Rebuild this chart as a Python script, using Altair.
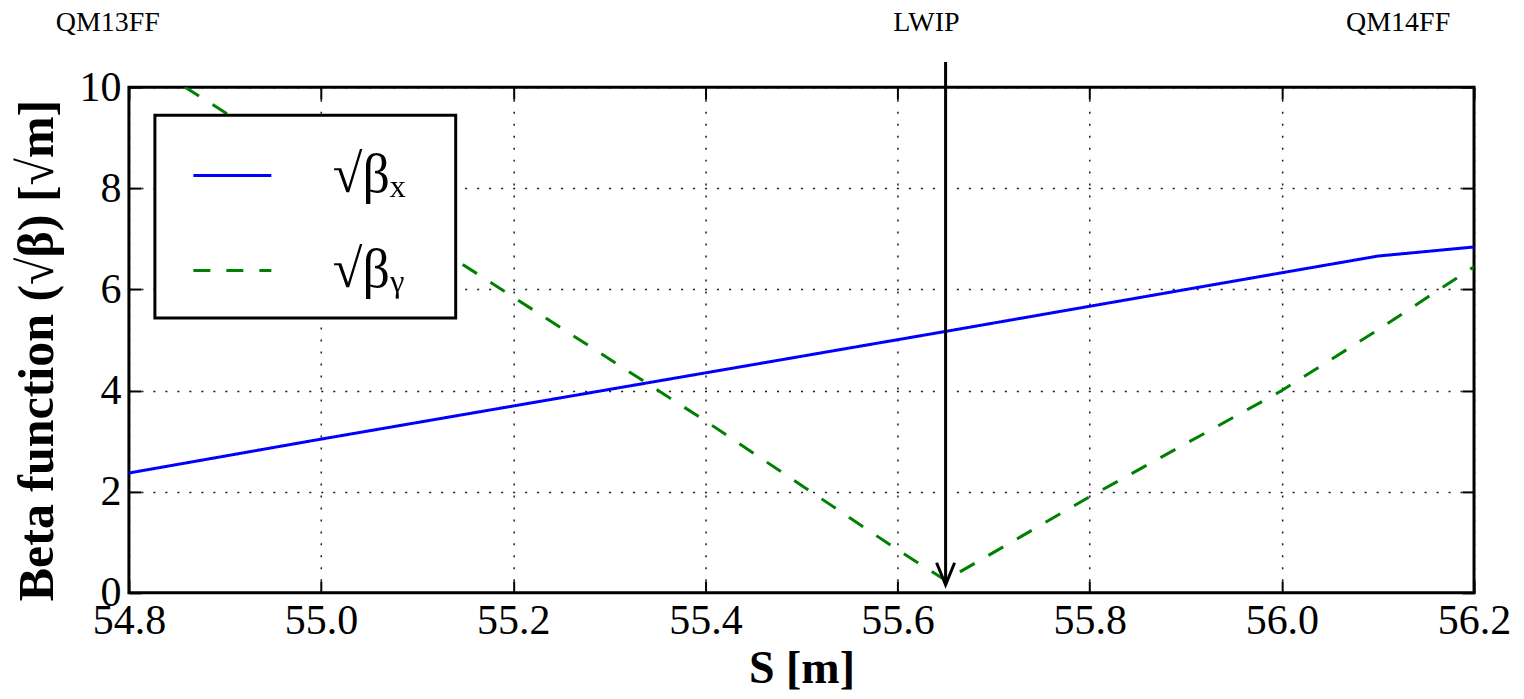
import altair as alt
import pandas as pd

# ---- data ----
s_x = [54.8, 55.0, 55.4, 55.65, 56.0, 56.1, 56.2]
beta_x = [2.37, 3.04, 4.35, 5.17, 6.33, 6.66, 6.84]

s_y = [54.8, 55.0, 55.2, 55.4, 55.6, 55.65, 55.8, 56.0, 56.1, 56.2]
beta_y = [10.7, 8.3, 5.85, 3.4, 0.85, 0.25, 1.9, 4.0, 5.2, 6.45]

series_names = ["√βₓ", "√βᵧ"]
series_colors = ["#0000ff", "#008000"]

x_ticks = [54.8, 55.0, 55.2, 55.4, 55.6, 55.8, 56.0, 56.2]
y_ticks = [0, 2, 4, 6, 8, 10]

element_names = ["QM13FF", "LWIP", "QM14FF"]
element_s = [54.778, 55.63, 56.121]
element_label_level = [11.26, 11.26, 11.26]

ip_s = [55.65]
arrow_top = [10.5]
arrow_tip = [0.16]

# ---- tables ----
df_lines = pd.concat([
    pd.DataFrame({"S": s_x, "beta": beta_x, "series": series_names[0]}),
    pd.DataFrame({"S": s_y, "beta": beta_y, "series": series_names[1]}),
])
df_labels = pd.DataFrame({"S": element_s, "lev": element_label_level, "name": element_names})
df_arrow = pd.DataFrame({"S": ip_s, "top": arrow_top, "tip": arrow_tip})

SERIF = "Liberation Serif"
X_SCALE = alt.Scale(domain=[54.8, 56.2], nice=False, zero=False)
Y_SCALE = alt.Scale(domain=[0, 10], nice=False, zero=False)

grid_kw = dict(grid=True, gridColor="black", gridDash=[2, 10], gridWidth=1.5, gridOpacity=0.9)
tick_kw = dict(tickSize=12, tickWidth=2, tickColor="black", offset=-12, domain=False)

# invisible right-hand legend title only widens the box to the reference size
legend = alt.Legend(
    orient="none", legendX=26, legendY=28,
    title="MMM", titleOrient="right", titleFontSize=12, titleOpacity=0, titlePadding=0,
    symbolType="stroke", symbolSize=6084, symbolStrokeWidth=3,
    labelFont=SERIF, labelFontSize=54, labelColor="black", labelOffset=60,
    padding=20, symbolOffset=17, rowPadding=27,
    strokeColor="black", fillColor="white",
)

lines = alt.Chart(df_lines).mark_line(strokeWidth=3, clip=True).encode(
    x=alt.X("S:Q", scale=X_SCALE, axis=alt.Axis(
        orient="bottom", values=x_ticks, format=".1f",
        labelFont=SERIF, labelFontSize=42, labelColor="black", labelPadding=8,
        labelFlush=False, labelOverlap=False,
        title="S [m]", titleFont=SERIF, titleFontSize=46, titleFontWeight="bold",
        titleColor="black", titlePadding=5,
        **tick_kw, **grid_kw)),
    y=alt.Y("beta:Q", scale=Y_SCALE, axis=alt.Axis(
        orient="left", values=y_ticks, format="d",
        labelFont=SERIF, labelFontSize=42, labelColor="black", labelPadding=8,
        labelFlush=False, labelOverlap=False,
        title="Beta function (√β) [√m]", titleFont=SERIF, titleFontSize=50,
        titleFontWeight="bold", titleColor="black", titlePadding=16, titleY=263,
        **tick_kw, **grid_kw)),
    color=alt.Color("series:N", scale=alt.Scale(domain=series_names, range=series_colors), legend=legend),
    strokeDash=alt.StrokeDash("series:N", scale=alt.Scale(domain=series_names, range=[[1, 0], [17, 16]]), legend=legend),
)

mirror = alt.Chart(df_lines).mark_line(opacity=0).encode(
    x=alt.X("S:Q", scale=X_SCALE, axis=alt.Axis(orient="top", values=x_ticks, labels=False, title=None, grid=False, **tick_kw)),
    y=alt.Y("beta:Q", scale=Y_SCALE, axis=alt.Axis(orient="right", values=y_ticks, labels=False, title=None, grid=False, **tick_kw)),
)

arrow_line = alt.Chart(df_arrow).mark_rule(strokeWidth=3, color="black", clip=False).encode(
    x=alt.X("S:Q", scale=X_SCALE, axis=None),
    y=alt.Y("top:Q", scale=Y_SCALE, axis=None),
    y2="tip:Q",
)
arrow_head = alt.Chart(df_arrow).mark_point(
    shape="M-0.41,-1L0,0L0.41,-1", size=1936, filled=False, strokeWidth=3,
    color="black", opacity=1, clip=False,
).encode(
    x=alt.X("S:Q", scale=X_SCALE, axis=None),
    y=alt.Y("tip:Q", scale=Y_SCALE, axis=None),
)

labels = alt.Chart(df_labels).mark_text(
    font=SERIF, fontSize=28, color="black", align="center", baseline="middle", clip=False
).encode(
    x=alt.X("S:Q", scale=X_SCALE, axis=None),
    y=alt.Y("lev:Q", scale=Y_SCALE, axis=None),
    text="name:N",
)

chart = alt.layer(lines, mirror, arrow_line, arrow_head, labels).resolve_axis(
    x="independent", y="independent"
).properties(
    width=1346, height=506,
    autosize=alt.AutoSizeParams(type="none"),
    padding={"left": 121, "top": 79, "right": 42, "bottom": 98},
).configure_view(
    stroke="black", strokeWidth=3
).configure_legend(
    strokeWidth=3
)

chart.save("out.html", embed_options={"renderer": "svg", "actions": False})
